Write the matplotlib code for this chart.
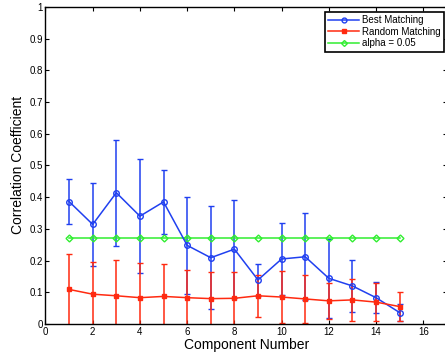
import numpy as np
import matplotlib.pyplot as plt
from matplotlib.lines import Line2D

plt.rcParams['font.family'] = ['Liberation Sans', 'DejaVu Sans']

# component indices and mean correlation values with their spreads
components = np.arange(1, 16)
best_mean = [0.386, 0.314, 0.414, 0.340, 0.385, 0.248, 0.209, 0.236,
             0.139, 0.205, 0.212, 0.144, 0.120, 0.083, 0.036]
best_err = [0.071, 0.130, 0.167, 0.180, 0.100, 0.152, 0.163, 0.155,
            0.051, 0.115, 0.137, 0.125, 0.082, 0.048, 0.027]
rand_mean = [0.109, 0.094, 0.089, 0.083, 0.087, 0.083, 0.080, 0.081,
             0.089, 0.085, 0.079, 0.073, 0.076, 0.069, 0.055]
rand_err = [0.113, 0.103, 0.112, 0.110, 0.103, 0.087, 0.085, 0.084,
            0.066, 0.082, 0.075, 0.057, 0.066, 0.061, 0.046]
alpha_level = [0.27] * 15

c_best = '#2040f0'
c_rand = '#ff2a10'
c_alpha = '#30ee30'

fig = plt.figure(figsize=(4.45, 3.6), dpi=100)
ax = fig.add_axes([0.1022, 0.1, 0.902, 0.881])

ax.errorbar(components, best_mean, yerr=best_err, color=c_best, lw=1.1,
            marker='o', ms=4, mfc='none', mew=1.0, capsize=2.5, elinewidth=1.1)
ax.errorbar(components, rand_mean, yerr=rand_err, color=c_rand, lw=1.1,
            marker='s', ms=3.5, mfc=c_rand, mew=1.0, capsize=2.5, elinewidth=1.1)
ax.plot(components, alpha_level, color=c_alpha, lw=1.1, marker='D', ms=3.5,
        mfc='none', mew=1.0)

ax.set_xlim(0, 17)
ax.set_ylim(0, 1)
ax.set_xticks(range(0, 17, 2))
ax.set_yticks(np.arange(0, 1.01, 0.1))
ax.set_yticklabels(['0', '0.1', '0.2', '0.3', '0.4', '0.5', '0.6', '0.7', '0.8', '0.9', '1'])
ax.tick_params(direction='in', top=True, right=True, labelsize=7, length=3, pad=2)
for s in ax.spines.values():
    s.set_linewidth(1.0)

ax.set_xlabel('Component Number', fontsize=10, labelpad=1)
ax.set_ylabel('Correlation Coefficient', fontsize=10, labelpad=3)

handles = [
    Line2D([], [], color=c_best, lw=1.1, marker='o', ms=3.5, mfc='none'),
    Line2D([], [], color=c_rand, lw=1.1, marker='s', ms=3, mfc=c_rand),
    Line2D([], [], color=c_alpha, lw=1.1, marker='D', ms=3, mfc='none'),
]
labels = ['Best Matching', 'Random Matching', 'alpha = 0.05']
leg = ax.legend(handles, labels, loc='upper right',
                bbox_to_anchor=(444 / 445, 1 - 12 / 360),
                bbox_transform=fig.transFigure, fontsize=7, fancybox=False,
                framealpha=1, edgecolor='black', borderpad=0.35,
                labelspacing=0.15, handlelength=3.2, handletextpad=0.3,
                borderaxespad=0)
leg.get_frame().set_linewidth(1.2)

fig.savefig('out.png', dpi=100)
